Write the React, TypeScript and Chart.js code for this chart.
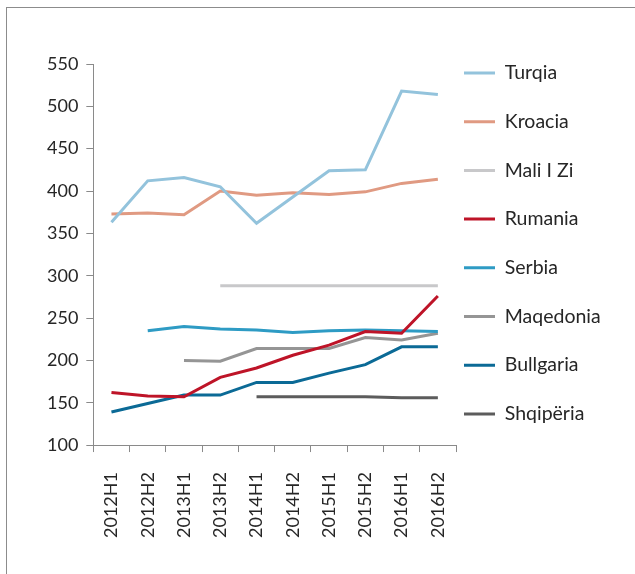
import React, { useEffect, useRef } from "react";
import { Chart, registerables } from "chart.js";

Chart.register(...registerables);

const categories = ["2012H1", "2012H2", "2013H1", "2013H2", "2014H1", "2014H2", "2015H1", "2015H2", "2016H1", "2016H2"];

const turqia = [363, 412, 416, 405, 362, 393, 424, 425, 518, 514];
const kroacia = [373, 374, 372, 400, 395, 398, 396, 399, 409, 414];
const maliIZi = [null, null, null, 288, 288, 288, 288, 288, 288, 288];
const rumania = [162, 158, 157, 180, 191, 206, 218, 234, 232, 276];
const serbia = [null, 235, 240, 237, 236, 233, 235, 236, 235, 234];
const maqedonia = [null, null, 200, 199, 214, 214, 214, 227, 224, 232];
const bullgaria = [139, 149, 159, 159, 174, 174, 185, 195, 216, 216];
const shqiperia = [null, null, null, null, 157, 157, 157, 157, 156, 156];

const seriesNames = ["Turqia", "Kroacia", "Mali I Zi", "Rumania", "Serbia", "Maqedonia", "Bullgaria", "Shqipëria"];
const seriesValues = [turqia, kroacia, maliIZi, rumania, serbia, maqedonia, bullgaria, shqiperia];
const seriesColors = ["#93C3DC", "#E09A82", "#C8C8CA", "#BE1428", "#2E9BC4", "#959595", "#0B6A96", "#5C5C5C"];

const yMin = 100;
const yMax = 550;
const yStep = 50;

const FONT = "Lato";
const TEXT = "#262626";
const AXIS = "#8a8a8a";
const LEGEND_FS = 19.5;
const LEGEND_PAD = 48.7 - LEGEND_FS;
const LEGEND_W = 120;

const legendPlace = {
  id: "legendPlace",
  afterLayout(chart: any) {
    const lg = chart.legend;
    const ca = chart.chartArea;
    if (!lg || !ca) return;
    const dx = ca.right + 8 - LEGEND_PAD - lg.left;
    lg.left += dx;
    lg.right = chart.width;
    lg.width = lg.right - lg.left;
    const dy = ca.top + 9 - LEGEND_FS / 2 - LEGEND_PAD - lg.top;
    lg.top += dy;
    lg.bottom += dy;
  },
};

export default function App() {
  const ref = useRef<HTMLCanvasElement>(null);

  useEffect(() => {
    if (!ref.current) return;
    const chart = new Chart(ref.current, {
      type: "line",
      data: {
        labels: categories,
        datasets: seriesNames.map((name, i) => ({
          label: name,
          data: seriesValues[i],
          borderColor: seriesColors[i],
          backgroundColor: seriesColors[i],
          borderWidth: 3,
          pointRadius: 0,
          pointHoverRadius: 0,
          tension: 0,
          fill: false,
        })),
      },
      options: {
        responsive: false,
        animation: false,
        layout: { padding: { left: 39, top: 64, right: 59, bottom: 16 } },
        plugins: {
          tooltip: { enabled: false },
          title: { display: false },
          legend: {
            position: "right",
            align: "start",
            maxWidth: LEGEND_W,
            labels: {
              font: { family: FONT, size: LEGEND_FS },
              color: TEXT,
              boxWidth: 31,
              boxHeight: 3,
              padding: LEGEND_PAD,
              generateLabels: (c: any) =>
                Chart.defaults.plugins.legend.labels.generateLabels(c).map((l: any) => ({ ...l, lineWidth: 0 })),
            },
          },
        },
        scales: {
          x: {
            offset: true,
            grid: { offset: true, drawOnChartArea: false, drawTicks: true, tickLength: 7, color: AXIS, lineWidth: 1 },
            border: { color: AXIS, width: 1 },
            ticks: {
              autoSkip: false,
              maxRotation: 90,
              minRotation: 90,
              padding: 20,
              font: { family: FONT, size: 18 },
              color: TEXT,
            },
          },
          y: {
            min: yMin,
            max: yMax,
            grid: { drawOnChartArea: false, drawTicks: true, tickLength: 7, color: AXIS, lineWidth: 1 },
            border: { color: AXIS, width: 1 },
            ticks: {
              stepSize: yStep,
              padding: 8,
              font: { family: FONT, size: 18 },
              color: TEXT,
            },
          },
        },
      },
      plugins: [legendPlace],
    });
    return () => chart.destroy();
  }, []);

  return (
    <div style={{ position: "absolute", left: 0, top: 0, width: 635, height: 574, overflow: "hidden", background: "#fff" }}>
      <div
        style={{
          position: "absolute",
          left: 6,
          top: 7,
          width: 700,
          height: 700,
          borderLeft: "1px solid #8c8c8c",
          borderTop: "1px solid #8c8c8c",
        }}
      />
      <canvas ref={ref} width={635} height={574} style={{ position: "absolute", left: 0, top: 0 }} />
    </div>
  );
}
